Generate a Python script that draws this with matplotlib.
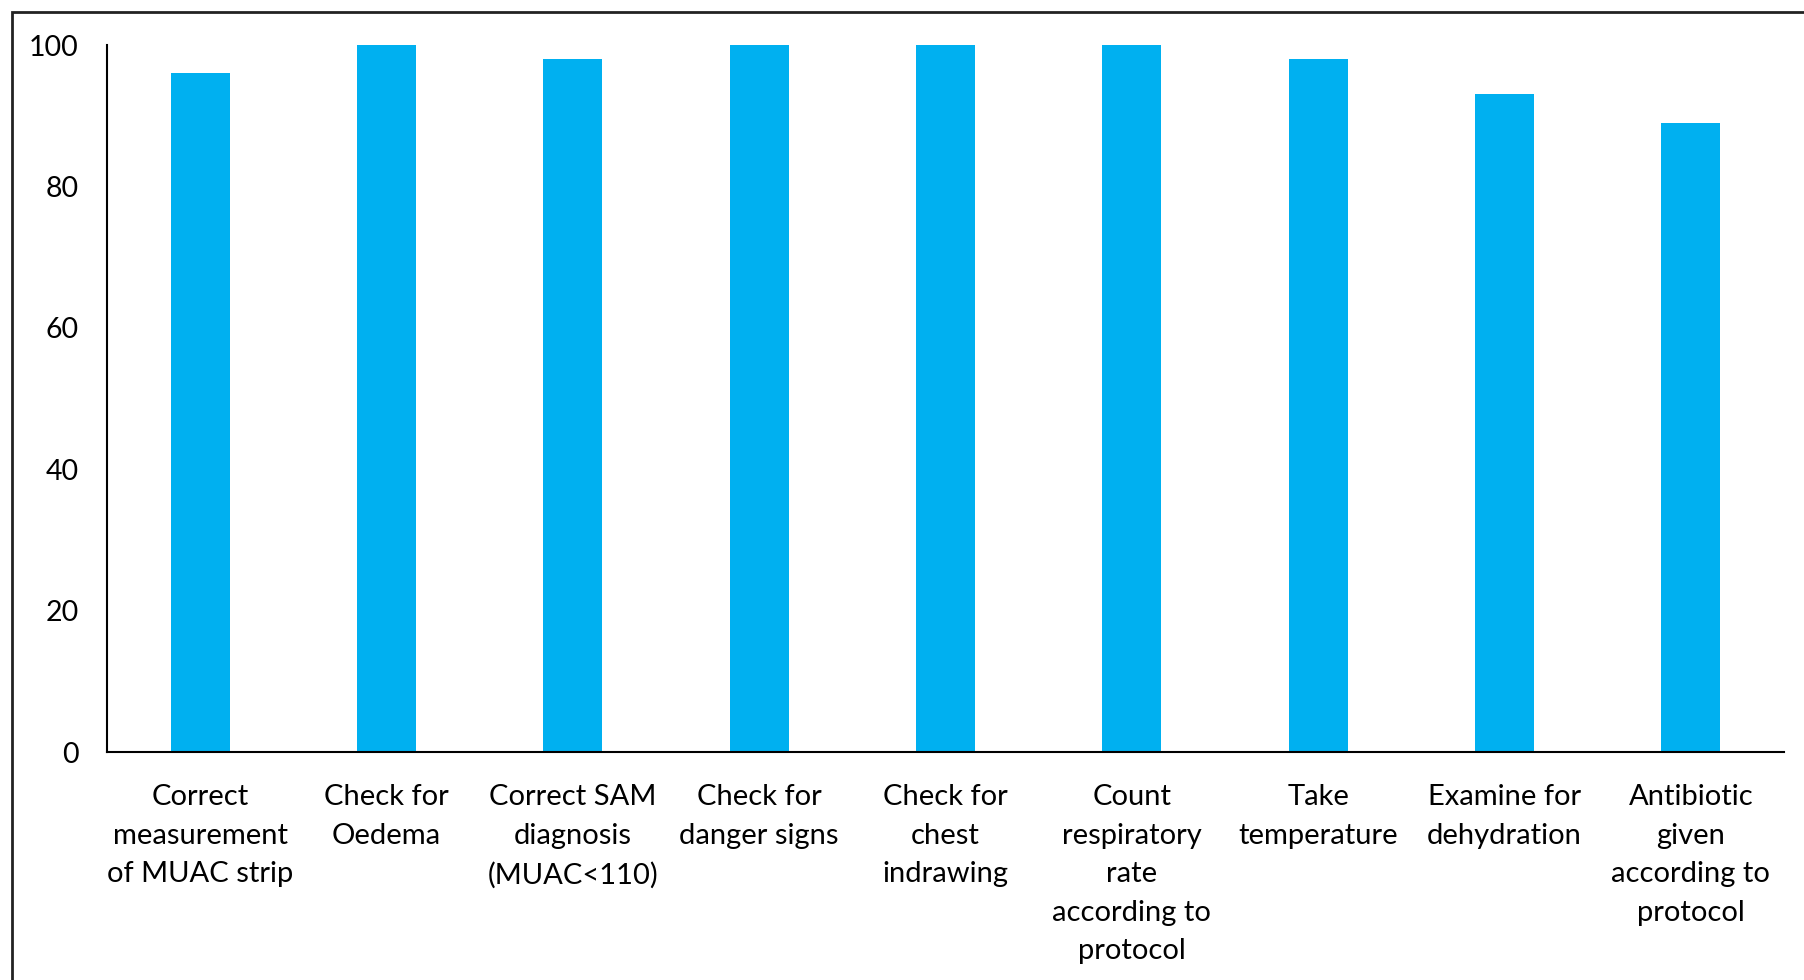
import matplotlib
matplotlib.use("Agg")
import matplotlib.pyplot as plt
from matplotlib.patches import Rectangle

categories = [
    "Correct\nmeasurement\nof MUAC strip",
    "Check for\nOedema",
    "Correct SAM\ndiagnosis\n(MUAC<110)",
    "Check for\ndanger signs",
    "Check for\nchest\nindrawing",
    "Count\nrespiratory\nrate\naccording to\nprotocol",
    "Take\ntemperature",
    "Examine for\ndehydration",
    "Antibiotic\ngiven\naccording to\nprotocol",
]
values = [96, 100, 98, 100, 100, 100, 98, 93, 89]
y_ticks = [0, 20, 40, 60, 80, 100]

plt.rcParams["font.family"] = ["Lato", "DejaVu Sans"]

W, H = 1804, 980
fig = plt.figure(figsize=(W / 100, H / 100), dpi=100)
ax = fig.add_axes([107 / W, 1 - 752 / H, (1784 - 107) / W, (752 - 45) / H])

x = list(range(len(values)))
ax.bar(x, values, width=0.317, color="#00B0F0")

ax.set_xlim(-0.5, len(values) - 0.5)
ax.set_ylim(0, 100)
ax.set_yticks(y_ticks)
ax.set_yticklabels([str(v) for v in y_ticks], fontsize=20.5)
ax.set_xticks(x)
ax.set_xticklabels(categories, fontsize=21, linespacing=1.6, va="top")

ax.tick_params(axis="y", length=0, pad=20.5)
ax.tick_params(axis="x", length=0, pad=23)

for side in ("top", "right"):
    ax.spines[side].set_visible(False)
for side in ("left", "bottom"):
    ax.spines[side].set_linewidth(1.5)
    ax.spines[side].set_color("black")

# outer border, running off the right and bottom edges
fig.patches.append(Rectangle((12 / W, -0.05), 1.2, 1 - 12 / H + 0.05,
                             transform=fig.transFigure, fill=False,
                             edgecolor="#222222", linewidth=2))

fig.savefig("out.png", dpi=100, facecolor="white")
